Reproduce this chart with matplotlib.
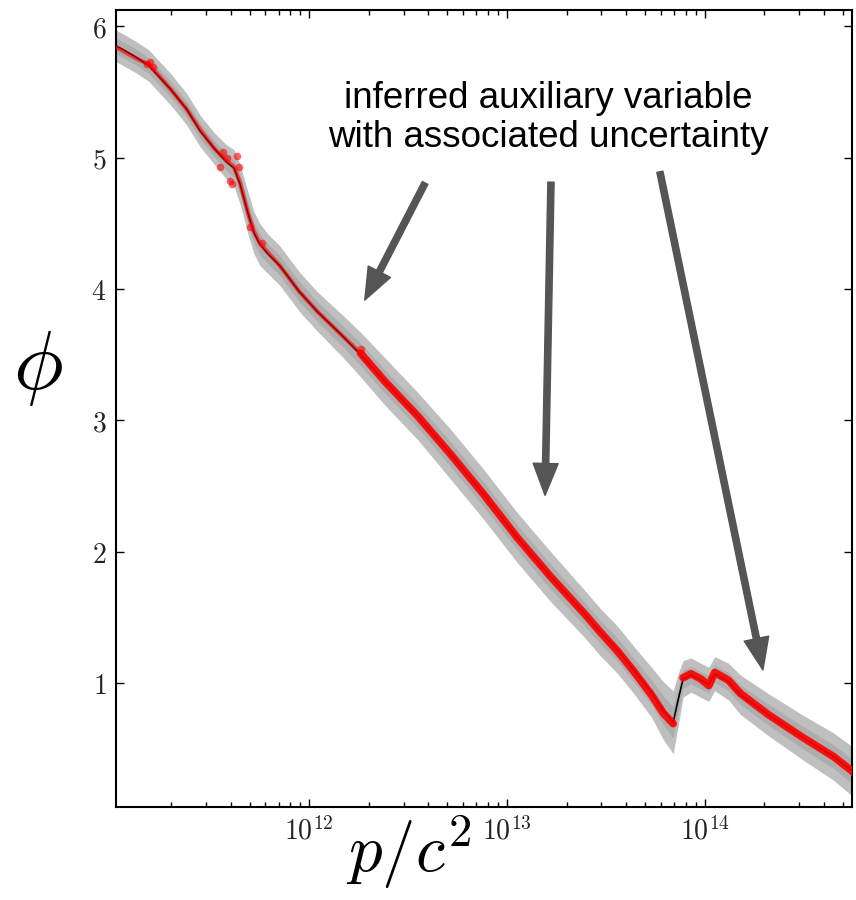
import numpy as np
import matplotlib
matplotlib.use("Agg")
import matplotlib.pyplot as plt
from matplotlib.ticker import FuncFormatter, FixedLocator, LogLocator

plt.rcParams["mathtext.fontset"] = "cm"

# inferred mean (black line), log10(p/c^2) knots
log_p = [11.00, 11.05, 11.12, 11.19, 11.22, 11.30, 11.38, 11.45, 11.52, 11.58,
         11.62, 11.65, 11.69, 11.72, 11.75, 11.79, 11.85, 11.95, 12.04, 12.17,
         12.26, 12.38, 12.55, 12.71, 12.88, 13.05, 13.22, 13.39, 13.47, 13.56,
         13.64, 13.73, 13.79, 13.84, 13.865, 13.89, 13.93, 13.98, 14.02, 14.05,
         14.12, 14.18, 14.32, 14.49, 14.65, 14.76]
phi_mean = [5.87, 5.83, 5.77, 5.70, 5.65, 5.52, 5.37, 5.20, 5.07, 4.97,
            4.92, 4.80, 4.58, 4.43, 4.34, 4.27, 4.18, 3.98, 3.83, 3.64,
            3.50, 3.30, 3.03, 2.75, 2.44, 2.11, 1.81, 1.53, 1.39, 1.25,
            1.10, 0.93, 0.79, 0.70, 0.87, 1.03, 1.06, 1.02, 0.99, 1.07,
            1.01, 0.91, 0.76, 0.59, 0.44, 0.31]
phi_sigma = [0.06, 0.06, 0.06, 0.06, 0.06, 0.06, 0.06, 0.06, 0.06, 0.065,
             0.07, 0.075, 0.08, 0.08, 0.08, 0.075, 0.075, 0.075, 0.075, 0.08,
             0.085, 0.09, 0.09, 0.095, 0.095, 0.095, 0.095, 0.09, 0.09, 0.09,
             0.09, 0.095, 0.11, 0.12, 0.10, 0.07, 0.065, 0.065, 0.065, 0.065,
             0.07, 0.075, 0.08, 0.085, 0.09, 0.095]

# observed data (red), same grid; gap at the steep rise
phi_obs = [5.86, 5.82, 5.76, 5.71, 5.66, 5.52, 5.37, 5.21, 5.07, 4.98,
           4.93, 4.81, 4.58, 4.44, 4.35, 4.28, 4.18, 3.98, 3.83, 3.64,
           3.51, 3.30, 3.03, 2.75, 2.44, 2.11, 1.81, 1.53, 1.39, 1.24,
           1.09, 0.91, 0.77, 0.69, np.nan, 1.04, 1.07, 1.03, 0.98, 1.08,
           1.02, 0.92, 0.76, 0.59, 0.44, 0.31]

# scattered red points off the line
scatter_log_p = [11.18, 11.195, 11.21, 11.55, 11.565, 11.585, 11.60, 11.61,
                 11.635, 11.645, 11.70, 11.76, 12.26]
scatter_phi = [5.71, 5.73, 5.69, 4.93, 5.04, 5.00, 4.82, 4.80,
               5.01, 4.93, 4.47, 4.35, 3.54]

y_ticks = [1, 2, 3, 4, 5, 6]
x_major = [1e12, 1e13, 1e14]

p = 10 ** np.array(log_p)
mean = np.array(phi_mean)
sig = np.array(phi_sigma)
obs = np.array(phi_obs)

fig = plt.figure(figsize=(8.56, 9.0), dpi=100)
ax = fig.add_axes([0.1355, 0.1033, 0.8598, 0.8856])

ax.fill_between(p, mean - 2 * sig, mean + 2 * sig, color="#bfbfbf", lw=0, zorder=1)
ax.fill_between(p, mean - sig, mean + sig, color="#adadad", lw=0, zorder=1.5)
ax.plot(p, mean, color="black", lw=1.2, zorder=2)

left = np.array(log_p) <= 12.3
ax.plot(p[left], obs[left], color="red", lw=3.0, alpha=0.6, zorder=3,
        solid_capstyle="round")
right = np.array(log_p) >= 12.26
ax.plot(p[right], obs[right], color="red", lw=5.5, alpha=0.9, zorder=3,
        solid_capstyle="round")
ax.scatter(10 ** np.array(scatter_log_p), scatter_phi, s=30, color="red",
           alpha=0.6, lw=0, zorder=3)

ax.set_xscale("log")
ax.set_xlim(10 ** 11.023, 10 ** 14.744)
ax.set_ylim(0.055, 6.125)

ax.xaxis.set_major_locator(FixedLocator(x_major))
ax.xaxis.set_minor_locator(LogLocator(base=10, subs=np.arange(2, 10)))
ax.xaxis.set_major_formatter(
    FuncFormatter(lambda v, _: r"$10^{%d}$" % round(np.log10(v))))
ax.xaxis.set_minor_formatter(FuncFormatter(lambda v, _: ""))
ax.yaxis.set_major_locator(FixedLocator(y_ticks))
ax.yaxis.set_major_formatter(FuncFormatter(lambda v, _: r"$%d$" % v))

ax.tick_params(which="both", direction="in", top=True, right=True,
               labelsize=20, labelcolor="#222222")
ax.tick_params(which="major", length=6, width=1, pad=7)
ax.tick_params(which="minor", length=3.5, width=1)
for s in ax.spines.values():
    s.set_linewidth(1.5)

ax.set_xlabel(r"$p/c^2$", fontsize=48)
ax.xaxis.set_label_coords(0.397, -0.008)
ax.xaxis.label.set_va("top")
ax.set_ylabel(r"$\phi$", fontsize=60, rotation=0)
ax.yaxis.set_label_coords(-0.106, 0.552)
ax.yaxis.label.set_va("center")

ax.text(0.587, 0.864, "inferred auxiliary variable\nwith associated uncertainty",
        transform=ax.transAxes, ha="center", va="center", fontsize=26.5,
        family="Liberation Sans", linespacing=1.15)

arrows = [((0.420, 0.783), (0.338, 0.636)),
          ((0.591, 0.784), (0.583, 0.391)),
          ((0.739, 0.797), (0.879, 0.172))]
for tail, head in arrows:
    ax.annotate("", xy=head, xytext=tail, xycoords="axes fraction",
                textcoords="axes fraction",
                arrowprops=dict(facecolor="#555555", edgecolor="#555555",
                                width=4.5, headwidth=18, headlength=23, shrink=0))

fig.savefig("out.png", dpi=100)
